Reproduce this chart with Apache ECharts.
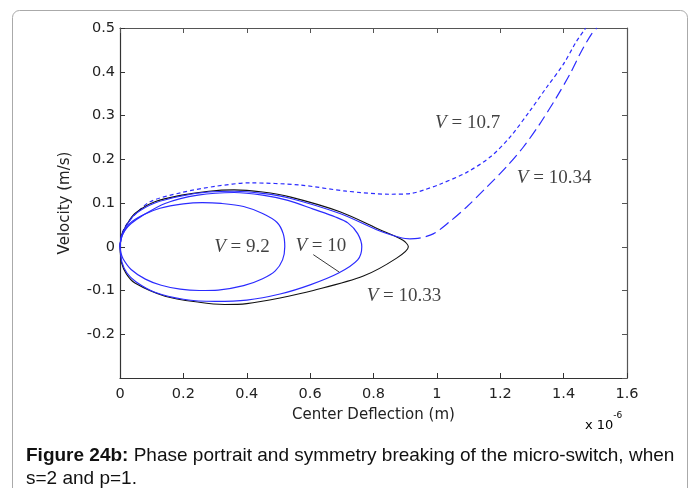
<!DOCTYPE html>
<html>
<head>
<meta charset="utf-8">
<script src="https://cdn.jsdelivr.net/npm/echarts@6/dist/echarts.min.js"></script>
<style>
html,body{margin:0;padding:0;background:#fff;}
#chart{width:697px;height:488px;}
</style>
</head>
<body>
<div id="chart"></div>
<script>
// ---- data (x in 1e-6 m, velocity in m/s) ----
var xTicks = [0, 0.2, 0.4, 0.6, 0.8, 1, 1.2, 1.4, 1.6];
var yTicks = [-0.3, -0.2, -0.1, 0, 0.1, 0.2, 0.3, 0.4, 0.5];

var v92 = [[0,0],[0.003,0.016],[0.01,0.031],[0.032,0.054],[0.074,0.073],[0.126,0.088],[0.2,0.098],[0.26,0.101],[0.32,0.099],
  [0.39,0.092],[0.45,0.076],[0.495,0.056],[0.515,0.03],[0.52,0],[0.513,-0.03],[0.49,-0.055],
  [0.45,-0.073],[0.39,-0.089],[0.31,-0.099],[0.25,-0.1],[0.19,-0.097],[0.13,-0.088],[0.08,-0.074],
  [0.035,-0.052],[0.01,-0.028],[0.003,-0.014],[0,0]];

var v10 = [[0,0],[0.004,0.02],[0.016,0.038],[0.035,0.053],[0.068,0.07],[0.142,0.099],[0.246,0.118],[0.36,0.124],
  [0.45,0.118],[0.53,0.106],[0.61,0.086],[0.68,0.068],[0.72,0.054],[0.75,0.03],[0.763,0],[0.75,-0.03],
  [0.69,-0.06],[0.6,-0.087],[0.505,-0.108],[0.4,-0.122],[0.3,-0.125],[0.2,-0.12],[0.11,-0.104],
  [0.05,-0.08],[0.022,-0.06],[0.006,-0.035],[0,0]];

var v1033 = [[0,0],[0.002,0.014],[0.005,0.027],[0.021,0.05],[0.047,0.076],[0.11,0.103],[0.195,0.118],[0.28,0.127],[0.36,0.13],
  [0.45,0.125],[0.536,0.114],[0.694,0.08],[0.82,0.039],[0.893,0.015],[0.91,0],[0.873,-0.026],[0.768,-0.067],
  [0.61,-0.1],[0.505,-0.117],[0.4,-0.13],[0.33,-0.132],[0.25,-0.127],[0.142,-0.113],[0.047,-0.083],
  [0.02,-0.062],[0.005,-0.037],[0,0]];

var v1034a = [[0,0],[0.002,0.014],[0.005,0.026],[0.021,0.049],[0.047,0.074],[0.11,0.1],[0.195,0.116],[0.28,0.125],[0.36,0.127],
  [0.45,0.122],[0.536,0.111],[0.694,0.076],[0.82,0.036],[0.89,0.02],[0.915,0.018]];
var v1034b = [[0.915,0.018],[0.94,0.019],[0.99,0.03],[1.04,0.057],[1.094,0.091],[1.157,0.136],
  [1.22,0.183],[1.273,0.228],[1.325,0.281],[1.378,0.342],[1.42,0.395],[1.457,0.448],
  [1.488,0.486],[1.505,0.5]];

var v107 = [[0,0],[0.003,0.02],[0.016,0.046],[0.05,0.075],[0.095,0.103],[0.195,0.124],[0.3,0.138],
  [0.41,0.146],[0.568,0.141],[0.715,0.127],[0.85,0.12],[0.92,0.122],[0.96,0.13],[1.01,0.143],
  [1.094,0.17],[1.168,0.205],[1.23,0.25],[1.294,0.311],[1.346,0.364],[1.399,0.417],
  [1.441,0.47],[1.47,0.5]];

var leader = [[0.61,-0.018],[0.692,-0.058]];

var curveLabels = ['9.2', '10', '10.33', '10.7', '10.34'];
var labelPos = [[0.385,0], [0.634,0.002], [0.896,-0.112], [1.097,0.282], [1.37,0.158]];

// ---- chart ----
var chart = echarts.init(document.getElementById('chart'), null, {renderer:'canvas'});
var tickFont = {fontFamily:'DejaVu Sans', fontSize:14.5, color:'#222'};
function fmt(v){ var r = Math.round(v*10)/10; return (Math.abs(r+0.3) < 1e-9) ? '' : String(r); }

var blue = '#2b2bff';
var option = {
  animation:false,
  backgroundColor:'#fff',
  grid:{left:120, right:70, top:28, bottom:110, containLabel:false},
  xAxis:[{
    type:'value', min:xTicks[0], max:xTicks[xTicks.length-1], interval:0.2,
    position:'bottom',
    name:'Center Deflection (m)', nameLocation:'middle', nameGap:30,
    nameTextStyle:{fontFamily:'DejaVu Sans', fontSize:15, color:'#222'},
    axisLine:{show:true, onZero:false, lineStyle:{color:'#333', width:1.2}},
    axisTick:{show:true, inside:true, length:5, lineStyle:{color:'#333'}},
    axisLabel:Object.assign({margin:9, formatter:fmt, showMinLabel:true, showMaxLabel:true}, tickFont),
    splitLine:{show:false}
  },{
    type:'value', min:xTicks[0], max:xTicks[xTicks.length-1], interval:0.2,
    position:'top',
    axisLine:{show:true, onZero:false, lineStyle:{color:'#555', width:1.2}},
    axisTick:{show:true, inside:true, length:5, lineStyle:{color:'#555'}},
    axisLabel:{show:false}, splitLine:{show:false}
  }],
  yAxis:[{
    type:'value', min:yTicks[0], max:yTicks[yTicks.length-1], interval:0.1,
    position:'left',
    name:'Velocity (m/s)', nameLocation:'middle', nameGap:47, nameRotate:90,
    nameTextStyle:{fontFamily:'DejaVu Sans', fontSize:15, color:'#222'},
    axisLine:{show:true, onZero:false, lineStyle:{color:'#333', width:1.2}},
    axisTick:{show:true, inside:true, length:5, lineStyle:{color:'#333'}},
    axisLabel:Object.assign({margin:5, formatter:fmt, showMinLabel:true, showMaxLabel:true}, tickFont),
    splitLine:{show:false}
  },{
    type:'value', min:yTicks[0], max:yTicks[yTicks.length-1], interval:0.1,
    position:'right',
    axisLine:{show:true, onZero:false, lineStyle:{color:'#555', width:1.2}},
    axisTick:{show:true, inside:true, length:5, lineStyle:{color:'#555'}},
    axisLabel:{show:false}, splitLine:{show:false}
  }],
  series:[
    {type:'line', data:v107, showSymbol:false, smooth:0.3, lineStyle:{color:blue, width:1.2, type:[4,3]}},
    {type:'line', data:v1033, showSymbol:false, smooth:0.3, lineStyle:{color:'#111', width:1.1}},
    {type:'line', data:v1034a, showSymbol:false, smooth:0.3, lineStyle:{color:blue, width:1.1}},
    {type:'line', data:v1034b, showSymbol:false, smooth:0.3, lineStyle:{color:blue, width:1.2, type:[11,5]}},
    {type:'line', data:v10, showSymbol:false, smooth:0.3, lineStyle:{color:blue, width:1.2}},
    {type:'line', data:v92, showSymbol:false, smooth:0.3, lineStyle:{color:blue, width:1.2}},
    {type:'line', data:leader, showSymbol:false, lineStyle:{color:'#222', width:0.9}},
    {type:'scatter', symbolSize:0, silent:true, z:10,
     data:labelPos.map(function(p,i){ return {value:p, name:curveLabels[i]}; }),
     label:{show:true, position:'inside',
       formatter:function(p){ return '{i|V}{n| = ' + p.name + '}'; },
       rich:{
         i:{fontFamily:'Liberation Serif', fontStyle:'italic', fontSize:19, color:'#111'},
         n:{fontFamily:'Liberation Serif', fontSize:19, color:'#111'}
       }}
    }
  ],
  graphic:[
    {type:'rect', shape:{x:12.5, y:10.5, width:675, height:500, r:7},
     style:{fill:'none', stroke:'#aaa', lineWidth:1}, silent:true, z:-10},
    {type:'text', left:585, top:411,
     style:{text:'{a|x 10}{s|-6}', rich:{
       a:{fontFamily:'DejaVu Sans', fontSize:13, color:'#222', verticalAlign:'bottom', padding:[8,0,0,0]},
       s:{fontFamily:'DejaVu Sans', fontSize:9, color:'#222', verticalAlign:'top', padding:[0,0,8,0]}}}},
    {type:'text', left:26, top:446,
     style:{text:'{b|Figure 24b:} Phase portrait and symmetry breaking of the micro-switch, when',
       fontFamily:'Liberation Sans', fontSize:19, fill:'#111',
       rich:{b:{fontFamily:'Liberation Sans', fontSize:19, fontWeight:'bold', color:'#111'}}}},
    {type:'text', left:26, top:469,
     style:{text:'s=2 and p=1.', fontFamily:'Liberation Sans', fontSize:19, fill:'#111'}}
  ]
};
chart.setOption(option);
</script>
</body>
</html>
